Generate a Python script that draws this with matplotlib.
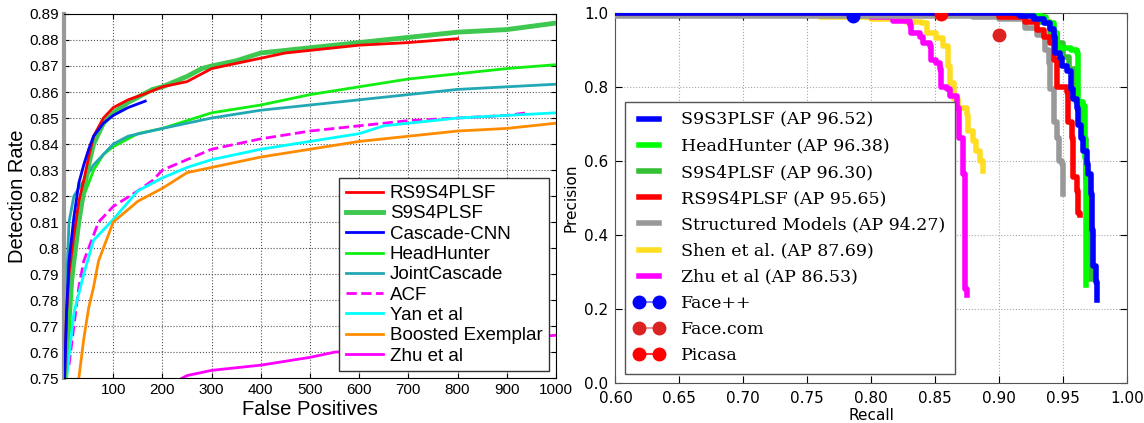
import matplotlib
matplotlib.use('Agg')
import matplotlib.pyplot as plt

# ---------------- left panel: detection rate vs false positives ----------------
rs9_fp = [1, 5, 10, 20, 30, 40, 50, 60, 80, 100, 130, 160, 200, 250, 270, 300, 350, 400, 450, 500, 550, 600, 700, 800]
rs9_dr = [0.75, 0.775, 0.79, 0.805, 0.818, 0.826, 0.835, 0.843, 0.850, 0.854, 0.857, 0.859, 0.862, 0.864, 0.866, 0.869, 0.871, 0.873, 0.875, 0.876, 0.877, 0.878, 0.879, 0.8805]

s94_fp = [1, 5, 10, 20, 30, 40, 50, 60, 80, 100, 130, 160, 180, 200, 250, 280, 300, 350, 400, 450, 500, 600, 700, 800, 900, 1000]
s94_dr = [0.75, 0.765, 0.78, 0.795, 0.81, 0.822, 0.832, 0.840, 0.848, 0.852, 0.856, 0.859, 0.861, 0.862, 0.866, 0.869, 0.870, 0.872, 0.875, 0.876, 0.877, 0.879, 0.881, 0.883, 0.884, 0.8865]

ccnn_fp = [1, 5, 10, 20, 30, 40, 50, 60, 80, 100, 130, 165]
ccnn_dr = [0.75, 0.775, 0.795, 0.812, 0.825, 0.832, 0.838, 0.843, 0.848, 0.851, 0.854, 0.8565]

hh_fp = [5, 10, 20, 30, 40, 60, 80, 100, 150, 200, 250, 300, 400, 500, 600, 700, 800, 900, 1000]
hh_dr = [0.75, 0.765, 0.795, 0.81, 0.82, 0.830, 0.836, 0.839, 0.844, 0.846, 0.849, 0.852, 0.855, 0.859, 0.862, 0.865, 0.867, 0.869, 0.8705]

jc_fp = [1, 5, 10, 20, 40, 60, 80, 100, 130, 200, 250, 300, 400, 500, 600, 700, 800, 900, 1000]
jc_dr = [0.755, 0.785, 0.810, 0.820, 0.826, 0.832, 0.836, 0.840, 0.843, 0.846, 0.848, 0.850, 0.853, 0.855, 0.857, 0.859, 0.861, 0.862, 0.863]

acf_fp = [10, 20, 30, 40, 50, 70, 100, 150, 180, 200, 250, 300, 400, 500, 600, 700, 800, 900, 940]
acf_dr = [0.755, 0.770, 0.785, 0.795, 0.800, 0.810, 0.816, 0.822, 0.826, 0.830, 0.834, 0.838, 0.842, 0.845, 0.847, 0.849, 0.850, 0.851, 0.852]

yan_fp = [5, 20, 40, 60, 80, 100, 150, 200, 250, 300, 400, 500, 600, 650, 700, 800, 900, 1000]
yan_dr = [0.75, 0.775, 0.790, 0.803, 0.807, 0.811, 0.822, 0.827, 0.831, 0.834, 0.838, 0.841, 0.844, 0.847, 0.848, 0.850, 0.851, 0.852]

be_fp = [30, 40, 50, 60, 70, 80, 100, 150, 200, 250, 300, 400, 500, 600, 700, 800, 900, 1000]
be_dr = [0.75, 0.765, 0.777, 0.785, 0.795, 0.800, 0.810, 0.818, 0.823, 0.829, 0.831, 0.835, 0.838, 0.841, 0.843, 0.845, 0.846, 0.848]

zhu_fp = [240, 250, 300, 400, 500, 550, 600, 700, 800, 900, 1000]
zhu_dr = [0.750, 0.751, 0.753, 0.755, 0.758, 0.760, 0.7605, 0.762, 0.763, 0.765, 0.7665]

# ---------------- right panel: precision vs recall ----------------
s93_r = [0.60, 0.914, 0.9165, 0.927, 0.935, 0.940, 0.943, 0.944, 0.948, 0.949, 0.953, 0.956, 0.958, 0.961, 0.962, 0.964, 0.966, 0.969, 0.970, 0.972, 0.973, 0.9735, 0.9755, 0.977]
s93_p = [1.0, 0.998, 0.991, 0.985, 0.972, 0.958, 0.936, 0.892, 0.879, 0.857, 0.843, 0.795, 0.768, 0.742, 0.697, 0.662, 0.627, 0.591, 0.565, 0.511, 0.414, 0.317, 0.273, 0.224]

hh2_r = [0.60, 0.924, 0.932, 0.937, 0.943, 0.945, 0.948, 0.956, 0.961, 0.962, 0.966, 0.967, 0.968]
hh2_p = [1.0, 0.998, 0.989, 0.972, 0.945, 0.910, 0.905, 0.900, 0.892, 0.759, 0.750, 0.609, 0.264]

s942_r = [0.60, 0.91, 0.93, 0.94, 0.945, 0.95, 0.955, 0.96, 0.965, 0.968, 0.970, 0.971, 0.972]
s942_p = [1.0, 0.997, 0.975, 0.945, 0.92, 0.88, 0.85, 0.76, 0.66, 0.55, 0.45, 0.35, 0.28]

rs92_r = [0.60, 0.90, 0.92, 0.93, 0.935, 0.940, 0.943, 0.945, 0.953, 0.954, 0.957, 0.958, 0.961, 0.9615, 0.9636]
rs92_p = [1.0, 0.99, 0.975, 0.955, 0.935, 0.92, 0.874, 0.80, 0.786, 0.706, 0.662, 0.556, 0.52, 0.458, 0.454]

sm_r = [0.60, 0.88, 0.90, 0.92, 0.93, 0.935, 0.936, 0.939, 0.940, 0.943, 0.945, 0.947, 0.949, 0.950]
sm_p = [0.993, 0.99, 0.985, 0.96, 0.94, 0.936, 0.90, 0.865, 0.795, 0.706, 0.662, 0.60, 0.591, 0.511]

shen_r = [0.60, 0.76, 0.80, 0.827, 0.840, 0.844, 0.851, 0.856, 0.860, 0.8615, 0.865, 0.868, 0.8746, 0.876, 0.880, 0.882, 0.885, 0.8877]
shen_p = [0.995, 0.99, 0.985, 0.975, 0.972, 0.945, 0.932, 0.910, 0.857, 0.812, 0.768, 0.742, 0.724, 0.680, 0.653, 0.627, 0.600, 0.573]

zhu2_r = [0.60, 0.79, 0.80, 0.817, 0.830, 0.8315, 0.838, 0.8406, 0.846, 0.847, 0.851, 0.8537, 0.855, 0.859, 0.8615, 0.8668, 0.869, 0.872, 0.8733, 0.8746]
zhu2_p = [1.0, 0.995, 0.99, 0.98, 0.967, 0.945, 0.936, 0.918, 0.910, 0.874, 0.865, 0.848, 0.800, 0.795, 0.777, 0.742, 0.662, 0.565, 0.255, 0.237]

facepp = (0.786, 0.993)
facecom = (0.900, 0.942)
picasa = (0.855, 0.998)

fig = plt.figure(figsize=(11.44, 4.23), dpi=100)

# ---- left ----
ax1 = fig.add_axes([0.056, 0.106, 0.430, 0.861])
sans = 'Liberation Sans'
ax1.plot(rs9_fp, rs9_dr, color='#ff0000', lw=2, label='RS9S4PLSF', zorder=5)
ax1.plot(s94_fp, s94_dr, color='#3ec850', lw=3.5, label='S9S4PLSF', zorder=4)
ax1.plot(ccnn_fp, ccnn_dr, color='#0000ff', lw=2, label='Cascade-CNN', zorder=6)
ax1.plot(hh_fp, hh_dr, color='#11ee11', lw=2, label='HeadHunter')
ax1.plot(jc_fp, jc_dr, color='#22a8b4', lw=2, label='JointCascade')
ax1.plot(acf_fp, acf_dr, color='#ff00ff', lw=2, ls='--', label='ACF')
ax1.plot(yan_fp, yan_dr, color='#00ffff', lw=2, label='Yan et al')
ax1.plot(be_fp, be_dr, color='#ff8c00', lw=2, label='Boosted Exemplar')
ax1.plot(zhu_fp, zhu_dr, color='#ff00ff', lw=2, label='Zhu et al')
ax1.set_xlim(0, 1000)
ax1.set_ylim(0.75, 0.89)
ax1.set_xticks(range(100, 1001, 100))
ax1.set_yticks([0.75 + 0.01 * i for i in range(15)])
ax1.set_yticklabels(['0.75', '0.76', '0.77', '0.78', '0.79', '0.8', '0.81', '0.82', '0.83',
                     '0.84', '0.85', '0.86', '0.87', '0.88', '0.89'])
ax1.grid(True, ls=':', color='#555555', lw=0.8)
ax1.tick_params(direction='in', labelsize=11, top=True, right=True)
for lab in ax1.get_xticklabels() + ax1.get_yticklabels():
    lab.set_family(sans)
ax1.spines['left'].set_color('#999999')
ax1.spines['left'].set_linewidth(3)
ax1.set_xlabel('False Positives', fontsize=14.5, family=sans, labelpad=2)
ax1.set_ylabel('Detection Rate', fontsize=14.5, family=sans, labelpad=2)
leg1 = ax1.legend(loc='lower right', bbox_to_anchor=(0.986, 0.019), borderaxespad=0,
                  fancybox=False, framealpha=1, edgecolor='#333333',
                  prop={'family': sans, 'size': 13.5}, handlelength=2.0,
                  handletextpad=0.35, labelspacing=0.17, borderpad=0.35)
leg1.set_zorder(10)

# ---- right ----
ax2 = fig.add_axes([0.538, 0.095, 0.447, 0.874])
lw2 = 4
ax2.plot(s93_r, s93_p, color='#0000ff', lw=lw2, drawstyle='steps-post', label='S9S3PLSF (AP 96.52)', zorder=8)
ax2.plot(hh2_r, hh2_p, color='#00ff00', lw=lw2, drawstyle='steps-post', label='HeadHunter (AP 96.38)', zorder=6)
ax2.plot(s942_r, s942_p, color='#33c033', lw=lw2, drawstyle='steps-post', label='S9S4PLSF (AP 96.30)', zorder=5)
ax2.plot(rs92_r, rs92_p, color='#ff0000', lw=lw2, drawstyle='steps-post', label='RS9S4PLSF (AP 95.65)', zorder=7)
ax2.plot(sm_r, sm_p, color='#999999', lw=lw2, drawstyle='steps-post', label='Structured Models (AP 94.27)', zorder=4)
ax2.plot(shen_r, shen_p, color='#ffdd22', lw=lw2, drawstyle='steps-post', label='Shen et al. (AP 87.69)', zorder=3)
ax2.plot(zhu2_r, zhu2_p, color='#ff00ff', lw=lw2, drawstyle='steps-post', label='Zhu et al (AP 86.53)', zorder=3)
ax2.plot([facepp[0]], [facepp[1]], marker='o', ms=9, color=(0, 0, 1, 0.5), mfc='#0000ff', mec='#0000ff', label='Face++', zorder=9)
ax2.plot([facecom[0]], [facecom[1]], marker='o', ms=9, color=(0.85, 0.15, 0.15, 0.5), mfc='#dd2222', mec='#dd2222', label='Face.com', zorder=9)
ax2.plot([picasa[0]], [picasa[1]], marker='o', ms=9, color=(1, 0, 0, 0.8), mfc='#ff0000', mec='#ff0000', label='Picasa', zorder=9)
ax2.set_xlim(0.6, 1.0)
ax2.set_ylim(0.0, 1.0)
ax2.set_xticks([0.6 + 0.05 * i for i in range(9)])
ax2.set_xticklabels(['0.60', '0.65', '0.70', '0.75', '0.80', '0.85', '0.90', '0.95', '1.00'])
ax2.set_yticks([0.0, 0.2, 0.4, 0.6, 0.8, 1.0])
ax2.set_yticklabels(['0.0', '0.2', '0.4', '0.6', '0.8', '1.0'])
ax2.grid(True, ls=':', color='#aaaaaa', lw=0.8)
ax2.tick_params(direction='in', labelsize=11, top=True, right=True, length=5)
ax2.tick_params(axis='x', pad=6)
ax2.tick_params(axis='y', pad=5)
for sp in ax2.spines.values():
    sp.set_color('#555555')
ax2.set_xlabel('Recall', fontsize=11, labelpad=1)
ax2.set_ylabel('Precision', fontsize=11, labelpad=4)
leg2 = ax2.legend(loc='lower left', bbox_to_anchor=(0.018, 0.024), borderaxespad=0,
                  fancybox=False, framealpha=1, edgecolor='#555555', numpoints=2,
                  prop={'family': 'DejaVu Serif', 'size': 12.5}, handlelength=1.7,
                  labelspacing=0.53, borderpad=0.55, handletextpad=1.0)
leg2.set_zorder(10)

fig.savefig('out.png', dpi=100)
